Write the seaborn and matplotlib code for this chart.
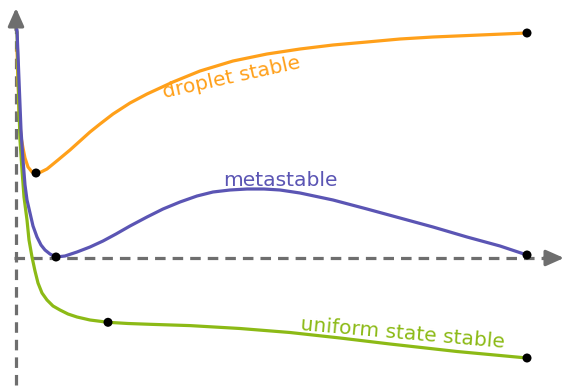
import matplotlib
matplotlib.use("Agg")
import matplotlib.pyplot as plt
import seaborn as sns

sns.set_theme(style="white")
plt.rcParams['font.family'] = ['DejaVu Sans']

# Free-energy sketch: three branches versus the control parameter.
# Coordinates are in drawing units with the origin at the axes crossing.
droplet_x = [1, 1, 3, 5, 7, 9, 12, 16, 20, 25, 31, 42, 54, 64, 74, 84, 97, 114, 131,
             157, 184, 217, 251, 284, 317, 351, 384, 417, 464, 511]
droplet_y = [228, 188, 148, 121, 110, 100, 91, 86, 85, 86, 89, 98, 108, 117, 126, 134,
             144, 155, 164, 176, 187, 197, 204, 209, 213, 216, 219, 221, 223, 225]

meta_x = [1, 3, 5, 7, 9, 11, 14, 17, 21, 25, 29, 34, 40, 49, 61, 74, 87, 100, 114, 131,
          147, 164, 181, 197, 214, 231, 248, 264, 284, 317, 351, 384, 417, 451, 484, 511]
meta_y = [228, 178, 128, 98, 73, 58, 45, 32, 21, 13, 8, 4, 1, 2, 6, 11, 17, 24, 32, 41,
          49, 56, 62, 66, 68, 69, 69, 68, 65, 58, 49, 40, 31, 21, 12, 3]

uniform_x = [1, 2, 3, 4, 6, 8, 11, 13, 16, 19, 22, 26, 31, 37, 44, 52, 61, 74, 92, 112,
             134, 174, 224, 274, 324, 374, 441, 511]
uniform_y = [226, 188, 148, 118, 88, 61, 38, 18, 1, -13, -25, -35, -42, -48, -52, -56,
             -59, -62, -64.3, -65.5, -66.3, -67.6, -70.5, -74.5, -80, -86, -93.5, -100]

# Marked states on each branch
droplet_pts_x = [20, 511]
droplet_pts_y = [85, 225]
meta_pts_x = [40, 511]
meta_pts_y = [1, 3]
uniform_pts_x = [92, 511]
uniform_pts_y = [-64.3, -100]

labels = ["droplet stable", "metastable", "uniform state stable"]

orange = "#FFA01A"
purple = "#5B55B4"
green = "#8CBA16"
axis_grey = "#6E6E6E"

fig = plt.figure(figsize=(5.65, 3.88), dpi=100)
ax = fig.add_axes([0, 0, 1, 1])
ax.set_xlim(-16, 549)
ax.set_ylim(-130, 258)
ax.axis("off")

# Dashed axes with arrow heads
ax.plot([0, 0], [-127, 230], ls=(0, (3.3, 2.2)), color=axis_grey, lw=2.3, zorder=1)
ax.plot([-2, 534], [0, 0], ls=(0, (3.3, 2.2)), color=axis_grey, lw=2.3, zorder=1)
arrow = dict(arrowstyle="-|>,head_length=0.9,head_width=0.4", color=axis_grey, lw=2.3,
             shrinkA=0, shrinkB=0)
ax.annotate("", xy=(0, 250), xytext=(0, 228), arrowprops=arrow, zorder=1)
ax.annotate("", xy=(548, 0), xytext=(528, 0), arrowprops=arrow, zorder=1)

lw = 2.3
line_kw = dict(lw=lw, ax=ax, solid_joinstyle="round", solid_capstyle="round", sort=False)
sns.lineplot(x=droplet_x, y=droplet_y, color=orange, zorder=2, **line_kw)
sns.lineplot(x=uniform_x, y=uniform_y, color=green, zorder=3, **line_kw)
sns.lineplot(x=meta_x, y=meta_y, color=purple, zorder=4, **line_kw)

pts_x = droplet_pts_x + meta_pts_x + uniform_pts_x
pts_y = droplet_pts_y + meta_pts_y + uniform_pts_y
sns.scatterplot(x=pts_x, y=pts_y, color="black", s=42, edgecolor="none", ax=ax, zorder=5)

fs = 14.6
ax.text(216, 180, labels[0], color=orange, fontsize=fs, rotation=12.4,
        rotation_mode="anchor", ha="center", va="center", zorder=6)
ax.text(264, 72, labels[1], color=purple, fontsize=fs, ha="center", va="baseline", zorder=6)
ax.text(387, -75, labels[2], color=green, fontsize=fs, rotation=-5,
        rotation_mode="anchor", ha="center", va="center", zorder=6)

fig.savefig("out.png", dpi=100)
